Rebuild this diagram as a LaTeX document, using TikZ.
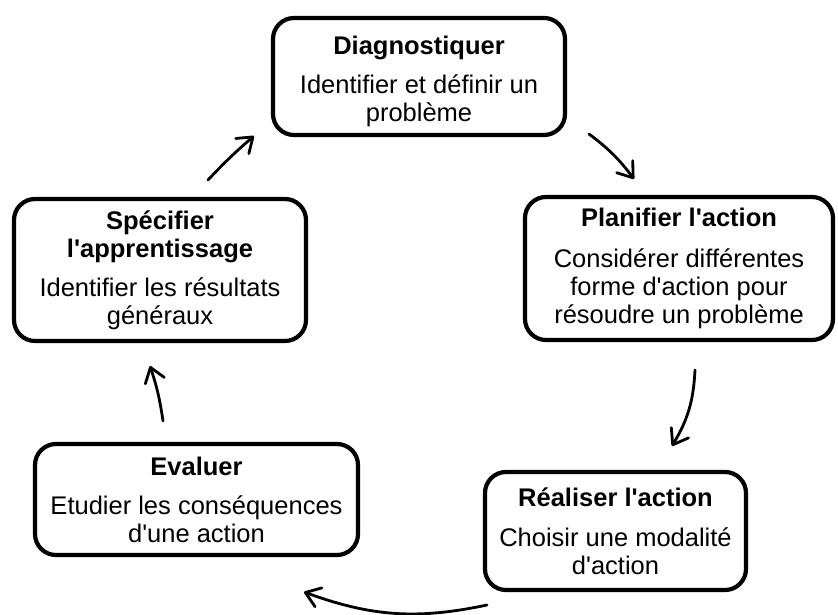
\documentclass[tikz,border=0pt]{standalone}
\usepackage{fontspec}
\setmainfont{Liberation Sans}[Ligatures=TeXOff]
\usetikzlibrary{arrows.meta}
\newcommand\topstrut[1]{\rule{0pt}{#1}}
\tikzset{
  stagebox/.style={draw=black, line width=4.2pt, rounded corners=21pt, fill=white,
    align=center, inner sep=0pt, font=\fontsize{25.5}{28}\selectfont},
  cyclearrow/.style={line width=2.8pt, line cap=round,
    -{Straight Barb[length=14pt,width=20pt,line width=2.8pt,round]}},
}
\begin{document}
\begin{tikzpicture}[x=1pt,y=-1pt]
\useasboundingbox (0,0) rectangle (838,615);
\node[stagebox, minimum width=292pt, minimum height=117pt] (diag) at (419,76.5)
  {\topstrut{29pt}\textbf{Diagnostiquer}\\[11pt]Identifier et définir un\\problème};
\node[stagebox, minimum width=308pt, minimum height=143pt] (plan) at (679,268.5)
  {\textbf{Planifier l'action}\\[13pt]Considérer différentes\\forme d'action pour\\résoudre un problème};
\node[stagebox, minimum width=292pt, minimum height=142pt] (spec) at (160,270)
  {\textbf{Spécifier}\\\textbf{l'apprentissage}\\[11pt]Identifier les résultats\\généraux};
\node[stagebox, minimum width=323pt, minimum height=111pt] (eval) at (196.5,499.5)
  {\textbf{Evaluer}\\[11pt]Etudier les conséquences\\d'une action};
\node[stagebox, minimum width=261pt, minimum height=118pt] (real) at (615.5,531)
  {\textbf{Réaliser l'action}\\[12pt]Choisir une modalité\\d'action};
% arrow end points
\coordinate (a1s) at (208,180); \coordinate (a1e) at (254,136);
\coordinate (a2s) at (589,134); \coordinate (a2e) at (634,179);
\coordinate (a3s) at (695,370); \coordinate (a3e) at (672,446);
\coordinate (a4s) at (487,605); \coordinate (a4e) at (304,592);
\coordinate (a5s) at (163,421); \coordinate (a5e) at (150,366);
\draw[cyclearrow] (a1s) to[bend left=3] (a1e);
\draw[cyclearrow] (a2s) to[bend left=8] (a2e);
\draw[cyclearrow] (a3s) to[bend left=14] (a3e);
\draw[cyclearrow] (a4s) to[bend left=16] (a4e);
\draw[cyclearrow] (a5s) to[bend right=5] (a5e);
\end{tikzpicture}
\end{document}
